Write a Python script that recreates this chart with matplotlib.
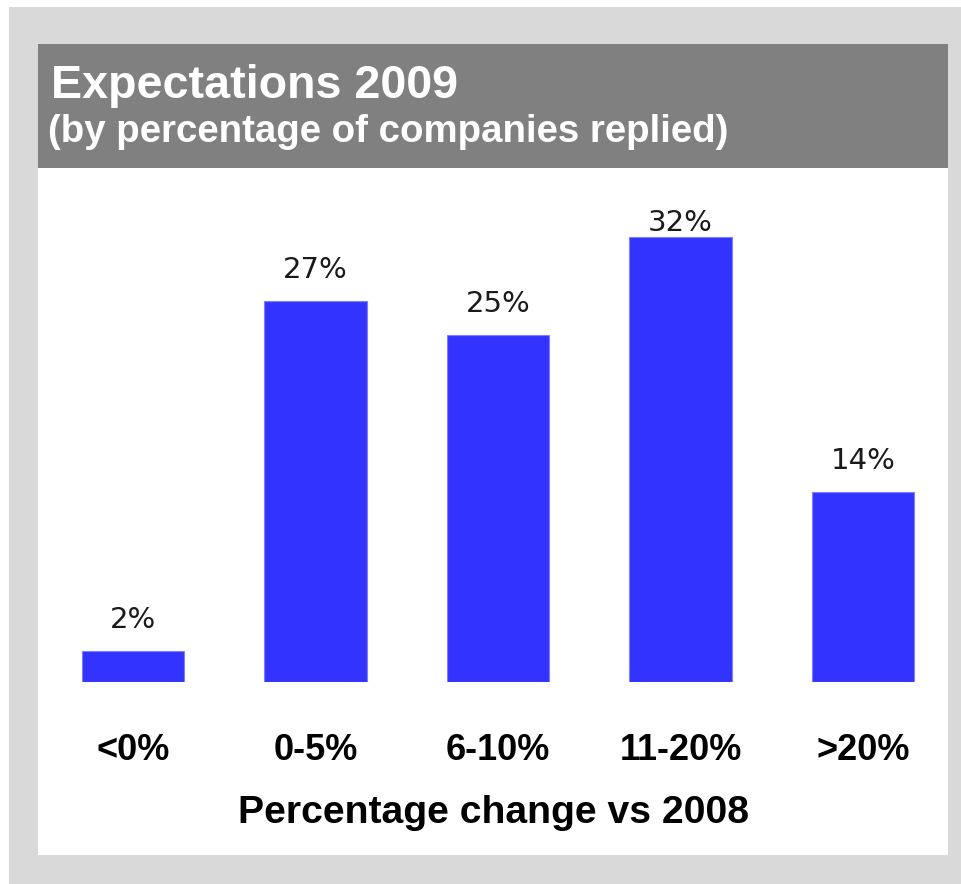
import matplotlib
matplotlib.use("Agg")
import matplotlib.pyplot as plt
from matplotlib.patches import Rectangle

# ---- data ----
categories = ["<0%", "0-5%", "6-10%", "11-20%", ">20%"]
values = [2.2, 27.4, 25.0, 32.0, 13.7]
value_labels = ["2%", "27%", "25%", "32%", "14%"]
title_text = "Expectations 2009"
subtitle_text = "(by percentage of companies replied)"
xlabel_text = "Percentage change vs 2008"

W, H = 961, 884
fig = plt.figure(figsize=(W / 100, H / 100), dpi=100)
fig.patch.set_facecolor("white")

def fx(px):
    return px / W

def fy(py):
    return 1 - py / H

# outer gray frame
fig.add_artist(Rectangle((fx(9), fy(884)), fx(961 - 9), 1 - 7 / H,
                         transform=fig.transFigure, facecolor="#d9d9d9",
                         edgecolor="none", zorder=0))
# white panel
fig.add_artist(Rectangle((fx(38), fy(855)), fx(948 - 38), (855 - 44) / H,
                         transform=fig.transFigure, facecolor="white",
                         edgecolor="none", zorder=0.5))
# title band
fig.add_artist(Rectangle((fx(38), fy(168)), fx(948 - 38), (168 - 44) / H,
                         transform=fig.transFigure, facecolor="#808080",
                         edgecolor="none", zorder=0.6))

fig.text(fx(51), fy(98), title_text, color="white", fontsize=33.6,
         fontweight="bold", family="Liberation Sans", va="baseline", ha="left")
fig.text(fx(48), fy(142), subtitle_text, color="white", fontsize=27.6,
         fontweight="bold", family="Liberation Sans", va="baseline", ha="left")

# axes: baseline at y=682 px, 13.9 px per unit
base_px = 682
top_px = 200
px_per = 13.9
ymax = (base_px - top_px) / px_per
left_px = 133 - 182.5 / 2
right_px = 863 + 182.5 / 2
ax = fig.add_axes([fx(left_px), fy(base_px), fx(right_px - left_px),
                   (base_px - top_px) / H])
ax.set_zorder(2)
ax.set_facecolor("none")
x = list(range(len(categories)))
bars = ax.bar(x, values, width=0.56, color="#3333ff", edgecolor="#8080ff",
              linewidth=0.8, zorder=2)
ax.set_xlim(-0.5, len(categories) - 0.5)
ax.set_ylim(0, ymax)
for s in ax.spines.values():
    s.set_visible(False)
ax.set_yticks([])
ax.set_xticks(x)
ax.set_xticklabels(categories, fontsize=26, fontweight="bold",
                   family="Liberation Sans")
ax.tick_params(axis="x", length=0, pad=37)

cap = ymax - 31 / px_per
for xi, v, lab in zip(x, values, value_labels):
    yy = min(v + 23 / px_per, cap)
    ax.text(xi, yy, lab, ha="center", va="baseline", fontsize=21,
            family="DejaVu Sans", color="#1a1a1a")

fig.text(fx(494), fy(823), xlabel_text, fontsize=28.2, fontweight="bold",
         family="Liberation Sans", ha="center", va="baseline")

fig.savefig("out.png", dpi=100)
